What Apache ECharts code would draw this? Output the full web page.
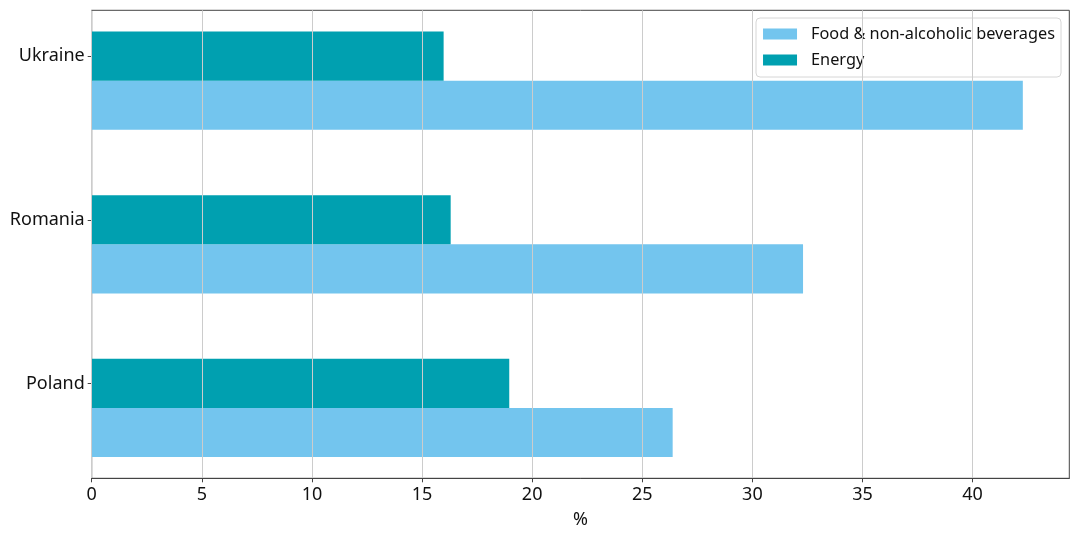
<!DOCTYPE html>
<html>
<head>
<meta charset="utf-8">
<script src="https://cdn.jsdelivr.net/npm/echarts@6/dist/echarts.min.js"></script>
<style>
	html, body { margin: 0; padding: 0; background: #fff; }
	#chart { width: 1080px; height: 540px; }
</style>
</head>
<body>
<div id="chart"></div>
<script>
	// categories bottom to top
	var countries = ['Poland', 'Romania', 'Ukraine'];
	var foodShare = [26.38, 32.30, 42.28];
	var energyShare = [18.96, 16.30, 15.98];
	var xTicks = [0, 5, 10, 15, 20, 25, 30, 35, 40];
	// category ticks sit at the middle of the energy bar
	var yTicks = [0.15, 1.15, 2.15];

	var BAR_H = 0.3;
	var FONT = '"Noto Sans", Lato, sans-serif';

	function barRenderer(offset) {
		return function (params, api) {
			var pos = api.value(1);
			var p0 = api.coord([0, pos + offset]);
			var p1 = api.coord([api.value(0), pos + offset + BAR_H]);
			return {
				type: 'rect',
				shape: { x: p0[0], y: p1[1], width: p1[0] - p0[0], height: p0[1] - p1[1] },
				style: api.style()
			};
		};
	}

	var chart = echarts.init(document.getElementById('chart'));
	var option = {
		animation: false,
		textStyle: { fontFamily: FONT },
		grid: {
			left: 91.7, right: 10.7, top: 10.3, bottom: 61.7,
			show: true, borderColor: '#444', borderWidth: 1, backgroundColor: 'transparent'
		},
		legend: {
			orient: 'vertical',
			right: 19, top: 18,
			padding: [7, 6, 8, 7],
			itemWidth: 34, itemHeight: 11, itemGap: 8,
			icon: 'rect',
			backgroundColor: 'rgba(255,255,255,0.8)',
			borderColor: '#d6d6d6', borderWidth: 1, borderRadius: 4,
			textStyle: { fontSize: 16.3, color: '#111', fontFamily: FONT, lineHeight: 18, padding: [0, 0, 0, 9] },
			data: ['Food & non-alcoholic beverages', 'Energy']
		},
		xAxis: {
			type: 'value',
			min: 0, max: 44.39,
			z: 10,
			name: '%',
			nameLocation: 'middle',
			nameGap: 33,
			nameTextStyle: { fontSize: 18, color: '#111', fontFamily: FONT },
			axisLine: { show: true, onZero: false, lineStyle: { color: '#444', width: 1 } },
			axisTick: { show: true, length: 4, customValues: xTicks, lineStyle: { color: '#444' } },
			axisLabel: { customValues: xTicks, fontSize: 18, color: '#111', margin: 8, fontFamily: FONT },
			splitLine: { show: true, lineStyle: { color: '#cccccc', width: 1 } }
		},
		yAxis: {
			type: 'value',
			min: -0.43, max: 2.43,
			axisLine: { show: true, onZero: false, lineStyle: { color: '#444', width: 1 } },
			axisTick: { show: true, length: 4, customValues: yTicks, lineStyle: { color: '#444' } },
			axisLabel: {
				customValues: yTicks, fontSize: 18, color: '#111', margin: 7, fontFamily: FONT,
				formatter: function (v) { return countries[Math.floor(v)]; }
			},
			splitLine: { show: false }
		},
		series: [
			{
				name: 'Food & non-alcoholic beverages',
				type: 'custom',
				itemStyle: { color: '#73c5ee' },
				encode: { x: 0, y: 1 },
				renderItem: barRenderer(-BAR_H),
				data: foodShare.map(function (v, i) { return [v, i]; })
			},
			{
				name: 'Energy',
				type: 'custom',
				itemStyle: { color: '#00a0b0' },
				encode: { x: 0, y: 1 },
				renderItem: barRenderer(0),
				data: energyShare.map(function (v, i) { return [v, i]; })
			}
		]
	};
	chart.setOption(option);
	window.addEventListener('resize', function () {
		chart.resize();
	});
</script>
</body>
</html>
